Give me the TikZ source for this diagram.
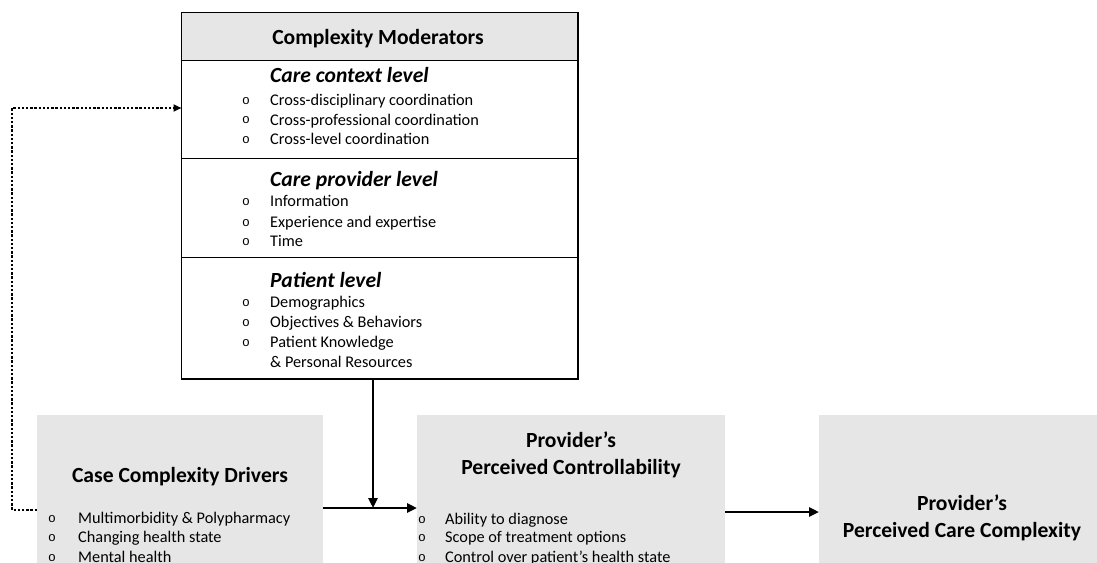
\documentclass[tikz,border=0pt]{standalone}
\usepackage{fontspec}
\setmainfont{Carlito}
\newfontfamily\bulletfont{Liberation Mono}
\usetikzlibrary{arrows.meta}
\definecolor{boxgray}{HTML}{E6E6E6}
\definecolor{headgray}{HTML}{E7E6E6}
\begin{document}
\begin{tikzpicture}[x=1pt,y=-1pt,
  modbox/.style={draw=black, line width=1.8pt, minimum width=396.5pt, inner sep=0pt, outer sep=0pt, anchor=north west},
  graybox/.style={fill=boxgray, inner sep=0pt, outer sep=0pt, anchor=north west},
  ttl/.style={font=\fontsize{21.6}{27}\selectfont\bfseries, align=center, inner sep=0pt},
  subttl/.style={font=\fontsize{21.6}{27}\selectfont\bfseries\itshape, anchor=base west, inner sep=0pt},
  itm/.style={font=\fontsize{16.3}{19.5}\selectfont, anchor=base west, inner sep=0pt},
  bul/.style={font=\bulletfont\fontsize{13}{13}\selectfont, inner sep=0pt},
  arr/.style={line width=2.7pt, -{Triangle[length=10pt,width=9pt]}},
  dots/.style={line width=2.6pt, dash pattern=on 2.4pt off 1.8pt, -{Triangle[length=8pt,width=7pt]}}
]
\useasboundingbox (0,0) rectangle (1097,562);
\clip (0,0) rectangle (1097,562);

% Complexity moderators box
\node[modbox, fill=headgray, minimum height=48pt] (head) at (181.5,12.5) {};
\node[modbox, minimum height=98pt] (ctx) at (181.5,60.5) {};
\node[modbox, minimum height=99pt] (prov) at (181.5,158.5) {};
\node[modbox, minimum height=121.5pt] (pat) at (181.5,257.5) {};

\node[ttl, anchor=base] (headt) at (378,44) {Complexity Moderators};

\node[subttl] (ctxt) at (270,82) {Care context level};
\node[bul] (b1) at (246,101) {o};
\node[itm] (i1) at (270,105.5) {Cross-disciplinary coordination};
\node[bul] (b2) at (246,120.5) {o};
\node[itm] (i2) at (270,125) {Cross-professional coordination};
\node[bul] (b3) at (246,140) {o};
\node[itm] (i3) at (270,144.5) {Cross-level coordination};

\node[subttl] (provt) at (270,186) {Care provider level};
\node[bul] (b4) at (246,202) {o};
\node[itm] (i4) at (270,206.5) {Information};
\node[bul] (b5) at (246,223) {o};
\node[itm] (i5) at (270,227.5) {Experience and expertise};
\node[bul] (b6) at (246,242) {o};
\node[itm] (i6) at (270,246.5) {Time};

\node[subttl] (patt) at (270,287) {Patient level};
\node[bul] (b7) at (246,303) {o};
\node[itm] (i7) at (270,307.5) {Demographics};
\node[bul] (b8) at (246,323) {o};
\node[itm] (i8) at (270,327.5) {Objectives \& Behaviors};
\node[bul] (b9) at (246,343) {o};
\node[itm] (i9) at (270,347.5) {Patient Knowledge};
\node[itm] (i10) at (270,367.5) {\& Personal Resources};

% Bottom boxes
\node[graybox, minimum width=286pt, minimum height=200pt] (case) at (37,415) {};
\node[ttl, anchor=base] (caset) at (180,482.5) {Case Complexity Drivers};
\node[bul] (c1) at (52,519.5) {o};
\node[itm] (ci1) at (78,523.5) {Multimorbidity \& Polypharmacy};
\node[bul] (c2) at (52,538.5) {o};
\node[itm] (ci2) at (78,542.5) {Changing health state};
\node[bul] (c3) at (52,558.5) {o};
\node[itm] (ci3) at (78,562.5) {Mental health};

\node[graybox, minimum width=308pt, minimum height=200pt] (ctrl) at (417,415) {};
\node[ttl] (ctrlt) at (571,454.7) {Provider’s\\Perceived Controllability};
\node[bul] (d1) at (422,520) {o};
\node[itm] (di1) at (445,524.5) {Ability to diagnose};
\node[bul] (d2) at (422,538.5) {o};
\node[itm] (di2) at (445,542.5) {Scope of treatment options};
\node[bul] (d3) at (422,558.5) {o};
\node[itm] (di3) at (445,562.5) {Control over patient’s health state};

\node[graybox, minimum width=290pt, minimum height=200pt] (outc) at (819,415) {};
\node[ttl] (outct) at (962,517.7) {Provider’s\\Perceived Care Complexity};

% Connectors
\coordinate (mainy) at (0,508);
\coordinate (outy) at (0,512);
\coordinate (doty) at (0,510);
\coordinate (dotx) at (12,0);
\coordinate (dottop) at (0,108);
\coordinate (vx) at (373,0);

\draw[arr] (case.east |- mainy) -- (ctrl.west |- mainy);
\draw[arr] (vx |- pat.south) -- (vx |- mainy);
\draw[arr] (ctrl.east |- outy) -- (outc.west |- outy);
\draw[dots] (case.west |- doty) -- (dotx |- doty) -- (dotx |- dottop) -- (ctx.west |- dottop);
\end{tikzpicture}
\end{document}
